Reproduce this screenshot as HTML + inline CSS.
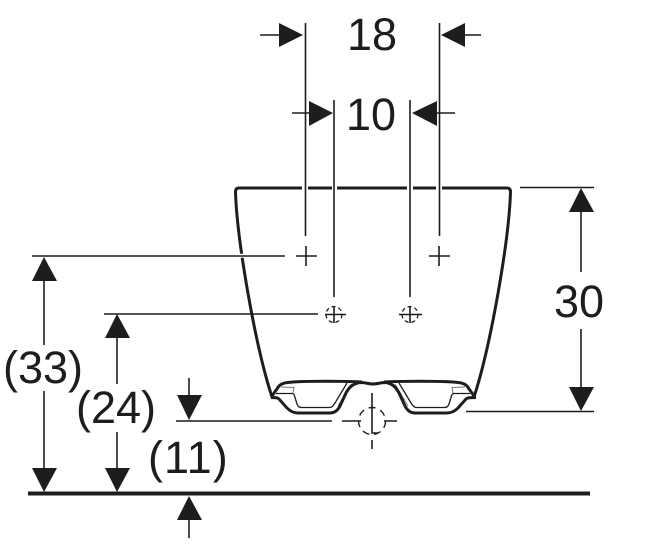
<!DOCTYPE html>
<html>
<head>
<meta charset="utf-8">
<style>
html,body{margin:0;padding:0;background:#fff;}
svg{display:block;}
text{font-family:"Liberation Sans",sans-serif;font-size:45px;fill:#1d1d1b;}
</style>
</head>
<body>
<svg width="662" height="545" viewBox="0 0 662 545" xmlns="http://www.w3.org/2000/svg">
<g fill="none" stroke="#1d1d1b">
  <!-- body outline with rounded top corners -->
  <path d="M272 397C255 345 237 240 235.500 192Q235.500 188 239 188H302M308 188H332M337 188H407M413 188H436M442 188H507Q510.500 188 510.500 192C509 240 491 345 474 397" stroke-width="3"/>
  <path d="M237 255.800H246M497 314H500" stroke="#fff" stroke-width="4"/>
  <!-- bowl bottom -->
  <path d="M271 397.500C275 398 277 397 279 399L287 408C290 411 293 413 298 413H330C335 413 338 410 340 406L346 393C349 387 354 383 361 382.500C366 382.500 368 384 373 384C378 384 380 382.500 385 382.500C392 383 396 387 399 393L405 406C407 410 410 413 415 413H447C452 413 455 411 458 408L466 399C468 397 471 398 476 397.500" stroke-width="3"/>
  <path d="M272 396L279 386C282 383 286 382.500 293 382C310 381 340 381 362 382M384 382C406 381 436 381 453 382C460 382.500 464 383 467 386L474 396" stroke-width="3"/>
  <path d="M276 393.500H292C293.500 393.500 294 394 294.500 396L297 404C298 406.500 299 407.500 302 407.500H329C332 407.500 333 406 335 403L347 383" stroke-width="1.300"/>
  <path d="M293 393L294 387.500L281 387" stroke-width="1" opacity=".6"/>
  <path d="M338 406L351 384" stroke-width="1" opacity=".6"/>
  <path d="M470 393.500H454C452.500 393.500 452 394 451.500 396L449 404C448 406.500 447 407.500 444 407.500H417C414 407.500 413 406 411 403L399 383" stroke-width="1.300"/>
  <path d="M453 393L452 387.500L465 387" stroke-width="1" opacity=".6"/>
  <path d="M408 406L395 384" stroke-width="1" opacity=".6"/>
  <!-- witness lines -->
  <g stroke-width="1.600">
    <path d="M305.500 23V236M439.500 23V236"/>
    <path d="M334 100V297M410 100V297"/>
    <path d="M260 35H280M460 35H481"/>
    <path d="M292 113H310M436 113H455"/>
    <path d="M32 256H285M104 314H318M176 421H332M342 421H361M384 421H397M466 411.500H594M520 187.500H594"/>
    <path d="M44 281V345M44 391V468M117 338V384M117 432V468M189 378V396M189 520V538M581 212V272M581 329V387"/>
    <!-- upper crosses -->
    <path d="M296 256H317M306 246V266M429 256H450M439 246V266"/>
    <!-- lower crosses -->
    <path d="M325 314.500H346M334 306V323M399 314.500H422M410 306V323"/>
    <path d="M372 393V433H378M372 440V449"/>
  </g>
  <circle cx="334" cy="314.500" r="8" stroke-width="1.300" stroke-dasharray="4 3"/>
  <circle cx="410" cy="314.500" r="8" stroke-width="1.300" stroke-dasharray="4 3"/>
  <circle cx="372" cy="421" r="13.500" stroke-width="1.400" stroke-dasharray="7 5"/>
  <!-- floor -->
  <path d="M28 493.500H590" stroke-width="4"/>
</g>
<g fill="#1d1d1b">
  <polygon points="303,35 279,23 279,47"/>
  <polygon points="441,35 465,23 465,47"/>
  <polygon points="333,113 309,101 309,126"/>
  <polygon points="412,113 437,101 437,126"/>
  <polygon points="44,257 32,281 57,281"/>
  <polygon points="44,492 32,468 57,468"/>
  <polygon points="117,314 105,338 130,338"/>
  <polygon points="117,492 105,468 130,468"/>
  <polygon points="189,420 177,395 202,395"/>
  <polygon points="189,496 177,520 202,520"/>
  <polygon points="581,188 569,212 594,212"/>
  <polygon points="581,411 569,387 594,387"/>
</g>
<text x="347" y="50">18</text>
<text x="346" y="130">10</text>
<text x="554" y="317">30</text>
<text x="3" y="383">(33)</text>
<text x="76" y="423">(24)</text>
<text x="148" y="473" letter-spacing="1">(11)</text>
</svg>
</body>
</html>
